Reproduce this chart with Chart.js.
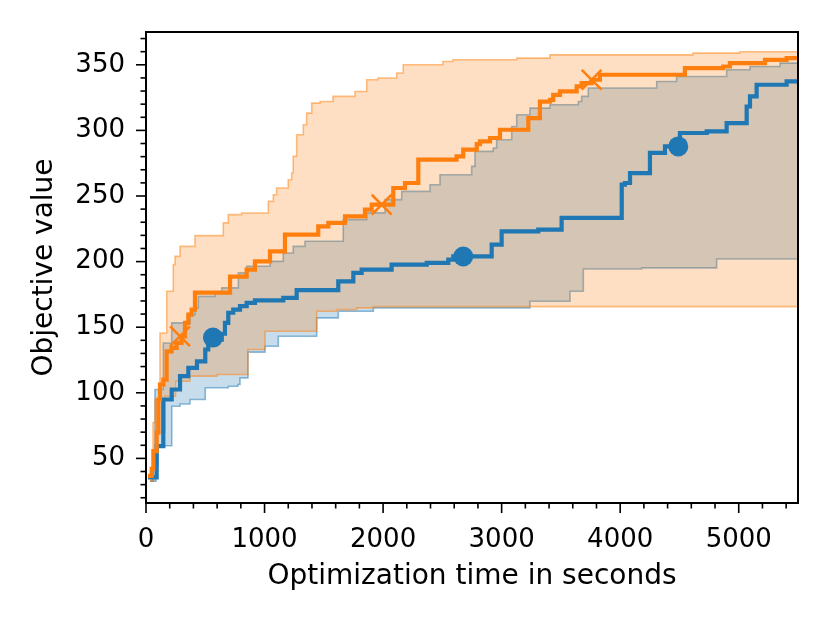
<!DOCTYPE html>
<html>
<head>
<meta charset="utf-8">
<script src="https://cdn.jsdelivr.net/npm/chart.js@4.4.0/dist/chart.umd.min.js"></script>
<style>
  html, body { margin: 0; padding: 0; background: #fff; }
  #wrap { width: 830px; height: 623px; }
</style>
</head>
<body>
<div id="wrap"><canvas id="chart" width="830" height="623"></canvas></div>
<script>
// ===== Data: [time in seconds, objective value], value holds until next point =====

// blue run (circles)
const blueMedian = [[17,35.5],[90,59.4],[146,94.9],[217,102.5],[287,112.7],[357,119],[430,124],[500,133],[525,140.6],[639,145],[666,153.3],[694,161],[736,163.4],[793,166],[849,168.6],[919,170.5],[1158,172.4],[1271,178.2],[1622,185],[1749,191.4],[1819,193.9],[2072,197.7],[2368,199],[2550,201.5],[2592,204],[2916,212.9],[3000,223],[3309,224.4],[3506,233.3],[4013,258.6],[4040,259.9],[4083,267.5],[4251,282.8],[4378,287.8],[4504,298],[4730,299.2],[4898,305.6],[5067,318.2],[5095,325.9],[5151,334.8],[5404,337.3],[5500,337.3]];
const blueLow = [[34,32.7],[84,45],[101,59.6],[217,89.8],[287,91.5],[371,94.9],[500,103.8],[694,105],[775,106.3],[793,111.4],[860,131],[1004,135.5],[1116,143.1],[1440,157.1],[1622,162.2],[1918,164.7],[3239,169.8],[3577,177.4],[3689,194.4],[4181,195.2],[4814,202],[5500,202]];
const blueHigh = [[34,32.7],[59,49],[76,102.5],[146,138],[217,153.3],[371,159.6],[413,164.7],[441,173.5],[582,176.2],[639,180],[779,191.4],[849,196.4],[1046,200.2],[1158,206.6],[1242,211.6],[1341,215.5],[1664,232],[1862,237.1],[2016,247.2],[2157,253.5],[2396,258.6],[2480,266.2],[2747,272.6],[2775,284],[2929,286.6],[2958,292.9],[3085,303],[3127,311.9],[3239,317],[3408,319.5],[3647,322],[3675,325.9],[3731,332.3],[4308,337.3],[4476,341.1],[4898,346.2],[5095,348.7],[5348,351.3],[5500,351.3]];
const blueMarks = [[565,142.1],[2676,203.9],[4490,287.8]];

// orange run (crosses)
const orangeMedian = [[17,36.6],[48,42],[62,55.6],[90,69.6],[104,94.9],[118,106.3],[146,110],[174,131.6],[216,134.2],[258,138.1],[300,143],[329,153.3],[357,159.6],[385,163.4],[413,176.4],[709,188.6],[849,193.9],[919,200.2],[1046,207.8],[1172,220.6],[1453,226.9],[1538,229.5],[1679,234.5],[1847,239.6],[1904,243.4],[2086,256.1],[2185,259.9],[2297,277.7],[2620,280.2],[2676,285.3],[2790,289.5],[2817,291.6],[2902,294.2],[2986,300.5],[3225,309.4],[3323,322],[3408,323.3],[3435,327.1],[3492,329.7],[3633,333.5],[3675,336],[3759,338.6],[3829,342.4],[4546,347.5],[4870,348.7],[4926,351.3],[5222,353.8],[5404,355.1],[5500,355.1]];
const orangeLow = [[34,32.7],[62,45],[90,70],[160,97.4],[250,108.8],[371,112.7],[600,114],[860,133],[1004,146.9],[1440,162.2],[1609,163.4],[1777,164.7],[1918,165.7],[5500,165.7]];
const orangeHigh = [[34,34],[59,77.4],[76,94.9],[118,145.6],[175,177.4],[230,197.7],[245,204],[287,211.6],[413,219.8],[652,229.5],[694,235.8],[807,237],[1032,245.9],[1074,251],[1102,256.1],[1200,262.4],[1229,267.5],[1242,280.2],[1271,296.7],[1327,304.3],[1355,313.2],[1398,320.8],[1468,322],[1577,325.9],[1763,329.7],[1862,338.6],[1957,339.9],[2115,343.7],[2170,350],[2505,352.5],[2590,353.8],[3127,355.1],[3408,357.6],[4614,358.9],[5010,360],[5500,360]];
const orangeMarks = [[287,143.1],[1988,243.4],[3759,338.6]];

// axes
const xTicks = [0, 1000, 2000, 3000, 4000, 5000];
const yTicks = [50, 100, 150, 200, 250, 300, 350];
const xMin = 0, xMax = 5500, xMinorStep = 200;
const yMin = 16, yMax = 375, yMinorStep = 10;

const BLUE = 'rgba(31,119,180,';
const ORANGE = 'rgba(255,127,14,';
const FONT = 'DejaVu Sans';

const pts = arr => arr.map(([x, y]) => ({ x, y }));

// band edge line, optionally filled down to another dataset
function edge(data, col, target) {
    return {
        data: pts(data),
        borderColor: col + '0.5)',
        backgroundColor: col + '0.25)',
        borderWidth: 1.6,
        pointRadius: 0,
        stepped: 'before',
        fill: target === undefined ? false : { target: target }
    };
}

// outward ticks (major + minor) and the box around the plot
const frame = {
    id: 'frame',
    afterDraw(chart) {
        const { ctx, chartArea: a, scales: { x, y } } = chart;
        ctx.save();
        ctx.strokeStyle = '#000';
        ctx.lineWidth = 1.6;
        const line = (x0, y0, x1, y1) => { ctx.beginPath(); ctx.moveTo(x0, y0); ctx.lineTo(x1, y1); ctx.stroke(); };
        for (let v = xMin; v <= xMax; v += xMinorStep) {
            const px = x.getPixelForValue(v);
            line(px, a.bottom, px, a.bottom + (xTicks.includes(v) ? 10 : 5.5));
        }
        for (let v = Math.ceil(yMin / yMinorStep) * yMinorStep; v <= yMax; v += yMinorStep) {
            const py = y.getPixelForValue(v);
            line(a.left, py, a.left - (yTicks.includes(v) ? 10 : 5.5), py);
        }
        ctx.lineWidth = 2;
        ctx.strokeRect(a.left, a.top, a.right - a.left, a.bottom - a.top);
        ctx.restore();
    }
};

const ctx = document.getElementById('chart').getContext('2d');
new Chart(ctx, {
    type: 'line',
    data: {
        datasets: [
            Object.assign(edge(blueLow, BLUE), { order: 10 }),
            Object.assign(edge(blueHigh, BLUE, 0), { order: 9 }),
            Object.assign(edge(orangeLow, ORANGE), { order: 8 }),
            Object.assign(edge(orangeHigh, ORANGE, 2), { order: 7 }),
            {
                data: pts(blueMedian), borderColor: BLUE + '1)', borderWidth: 4.2,
                pointRadius: 0, stepped: 'before', fill: false, order: 4
            },
            {
                data: pts(orangeMedian), borderColor: ORANGE + '1)', borderWidth: 4.2,
                pointRadius: 0, stepped: 'before', fill: false, order: 3
            },
            {
                data: pts(blueMarks), showLine: false, pointStyle: 'circle', pointRadius: 10,
                pointBackgroundColor: BLUE + '1)', pointBorderWidth: 0, order: 2
            },
            {
                data: pts(orangeMarks), showLine: false, pointStyle: 'crossRot', pointRadius: 14,
                pointBorderColor: ORANGE + '1)', pointBorderWidth: 2.6, order: 1
            }
        ]
    },
    options: {
        responsive: false,
        animation: false,
        devicePixelRatio: 1,
        layout: { padding: { top: 32, right: 32, left: 0, bottom: 0 } },
        plugins: { legend: { display: false }, tooltip: { enabled: false } },
        scales: {
            x: {
                type: 'linear', min: xMin, max: xMax,
                afterBuildTicks: s => { s.ticks = xTicks.map(v => ({ value: v })); },
                afterFit: s => { s.height = 120; s.paddingLeft = 0; s.paddingRight = 0; },
                grid: { display: false, tickLength: 0 }, border: { display: false },
                ticks: { font: { family: FONT, size: 26 }, color: '#000', padding: 22, maxRotation: 0,
                         autoSkip: false, callback: v => String(v) },
                title: { display: true, text: 'Optimization time in seconds', color: '#000',
                         font: { family: FONT, size: 28 }, padding: { top: 0, bottom: 29 } }
            },
            y: {
                type: 'linear', min: yMin, max: yMax,
                afterBuildTicks: s => { s.ticks = yTicks.map(v => ({ value: v })); },
                afterFit: s => { s.width = 146; s.paddingTop = 0; s.paddingBottom = 0; },
                grid: { display: false, tickLength: 0 }, border: { display: false },
                ticks: { font: { family: FONT, size: 26 }, color: '#000', padding: 21, autoSkip: false,
                         callback: v => String(v) },
                title: { display: true, text: 'Objective value', color: '#000',
                         font: { family: FONT, size: 28 }, padding: { top: 28, bottom: 0 } }
            }
        }
    },
    plugins: [frame]
});
</script>
</body>
</html>
